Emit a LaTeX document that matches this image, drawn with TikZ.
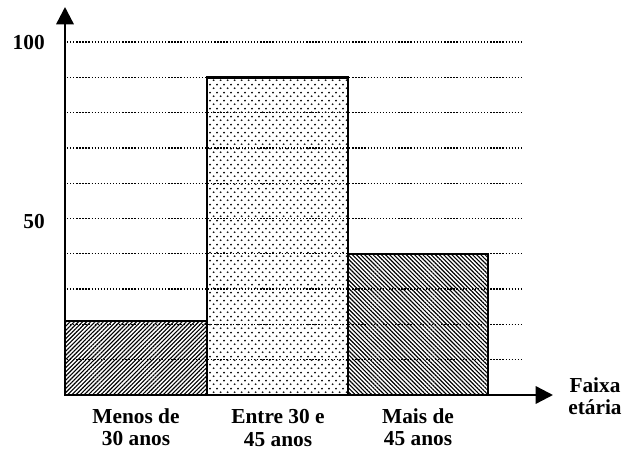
\documentclass[tikz,border=0pt]{standalone}
\usepackage{fontspec}
\setmainfont{Liberation Serif}
\usepackage{tikz}
\usetikzlibrary{arrows.meta,patterns,patterns.meta}

\pgfdeclarepatternformonly{sparsedots}{\pgfpointorigin}{\pgfqpoint{5.5pt}{6pt}}{\pgfqpoint{5.5pt}{6pt}}{%
  \pgfpathcircle{\pgfqpoint{1.375pt}{1.5pt}}{0.8pt}%
  \pgfpathcircle{\pgfqpoint{4.125pt}{4.5pt}}{0.8pt}%
  \pgfusepath{fill}}

\newcommand{\lblfont}{\fontsize{16}{17}\selectfont\bfseries}

\tikzset{
  axisline/.style={line width=1.8pt,-{Triangle[length=13pt,width=13pt]}},
  gridline/.style={line width=1pt,dash pattern=on 1pt off 1.3pt},
  barbox/.style={line width=1.8pt},
  hatchne/.style={pattern={Lines[angle=45,distance=2.2pt,line width=0.85pt]}},
  hatchnw/.style={pattern={Lines[angle=-45,distance=2.2pt,line width=0.85pt]}},
  dotfill/.style={pattern=sparsedots},
}

\begin{document}
\begin{tikzpicture}[x=0.75pt,y=0.75pt,yscale=-1,xscale=1]
            \useasboundingbox (0,0) rectangle (633,450);

            \coordinate (O) at (65,395);
            \coordinate (ytop) at (65,7);
            \coordinate (xend) at (553,395);

            %Shape: Rectangle [id:bar1] 
            \path [hatchne] (65,395) rectangle (207,320.9);
            %Shape: Rectangle [id:bar2] 
            \path [dotfill] (207,395) rectangle (348,77.3);
            %Shape: Rectangle [id:bar3] 
            \path [hatchnw] (348,395) rectangle (488,253.8);

            % Grid lines
            \foreach \k in {1,...,10}
              \draw [gridline] (67,395-35.3*\k) -- (522,395-35.3*\k);

            %Shape: Rectangle [id:bar1] 
            \draw [barbox] (65,395) rectangle (207,320.9);
            %Shape: Rectangle [id:bar2] 
            \draw [barbox] (207,395) rectangle (348,77.3);
            %Shape: Rectangle [id:bar3] 
            \draw [barbox] (348,395) rectangle (488,253.8);

            % Axes
            \draw [axisline] (O) -- (ytop);
            \draw [axisline] (O) -- (xend);

            % Text Node
            \draw (46,43) node (lbl100) [anchor=east] [inner sep=0.75pt]  [font=\lblfont]  {100};
            % Text Node
            \draw (46,222) node (lbl50) [anchor=east] [inner sep=0.75pt]  [font=\lblfont]  {50};
            % Text Node
            \draw (136,407) node (grp1) [anchor=north] [inner sep=0.75pt]  [font=\lblfont,align=center]  {Menos de\\30 anos};
            % Text Node
            \draw (278,408) node (grp2) [anchor=north] [inner sep=0.75pt]  [font=\lblfont,align=center]  {Entre 30 e\\45 anos};
            % Text Node
            \draw (418,407) node (grp3) [anchor=north] [inner sep=0.75pt]  [font=\lblfont,align=center]  {Mais de\\45 anos};
            % Text Node
            \draw (595,376) node (xlbl) [anchor=north] [inner sep=0.75pt]  [font=\lblfont,align=center]  {Faixa\\etária};

\end{tikzpicture}
\end{document}
